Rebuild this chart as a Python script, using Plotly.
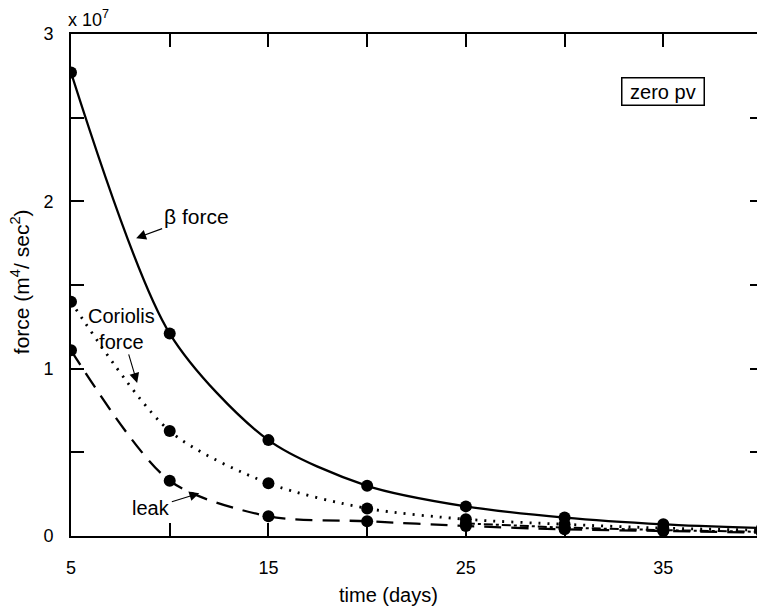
import plotly.graph_objects as go

days = [5, 10, 15, 20, 25, 30, 35, 40]
beta_force = [2.77e7, 1.21e7, 0.573e7, 0.30e7, 0.177e7, 0.11e7, 0.07e7, 0.047e7]
coriolis_force = [1.40e7, 0.627e7, 0.315e7, 0.165e7, 0.10e7, 0.07e7, 0.047e7, 0.035e7]
leak = [1.11e7, 0.33e7, 0.118e7, 0.088e7, 0.06e7, 0.04e7, 0.03e7, 0.02e7]
days_tail = [25, 30, 35, 40]
residual = [0.075e7, 0.05e7, 0.035e7, 0.025e7]

x_tickvals = [5, 10, 15, 20, 25, 30, 35, 40]
x_ticktext = ["5", "", "15", "", "25", "", "35", ""]
y_tickvals = [0, 0.5e7, 1e7, 1.5e7, 2e7, 2.5e7, 3e7]
y_ticktext = ["0", "", "1", "", "2", "", "3"]

FONT = "Liberation Sans, Arial, Helvetica, sans-serif"

fig = go.Figure()
mk = dict(color="black", size=12)
fig.add_trace(go.Scatter(x=days, y=beta_force, mode="lines+markers",
                         line=dict(color="black", width=2.3, shape="spline", smoothing=0.8), marker=mk))
fig.add_trace(go.Scatter(x=days, y=coriolis_force, mode="lines+markers",
                         line=dict(color="black", width=2.8, shape="spline", smoothing=0.8, dash="2px,7px"), marker=mk))
fig.add_trace(go.Scatter(x=days, y=leak, mode="lines+markers",
                         line=dict(color="black", width=2.3, shape="spline", smoothing=0.8, dash="17px,10px"), marker=mk))
fig.add_trace(go.Scatter(x=days_tail, y=residual, mode="lines+markers",
                         line=dict(color="black", width=2, dash="dashdot"), marker=mk))

arrow = dict(showarrow=True, arrowhead=2, arrowsize=1.8, arrowwidth=1.1, arrowcolor="black")

# page body has an 8px margin: compensate so the plot area sits at x 71..765, y 34..536 in the window
fig.update_layout(
    width=765, height=611,
    margin=dict(l=63, r=8, t=26, b=83),
    paper_bgcolor="white", plot_bgcolor="white",
    showlegend=False,
    font=dict(family=FONT, size=18, color="black"),
    xaxis=dict(range=[5, 40.05], tickvals=x_tickvals, ticktext=x_ticktext,
               ticks="inside", ticklen=13, tickwidth=1.5, tickcolor="black",
               showline=True, linecolor="black", linewidth=2, mirror="ticks",
               showgrid=False, zeroline=False, ticklabelstandoff=14,
               tickfont=dict(size=18)),
    yaxis=dict(range=[0, 3e7], tickvals=y_tickvals, ticktext=y_ticktext,
               ticks="inside", ticklen=13, tickwidth=1.5, tickcolor="black",
               showline=True, linecolor="black", linewidth=2, mirror="ticks",
               showgrid=False, zeroline=False, ticklabelstandoff=12,
               tickfont=dict(size=18)),
    annotations=[
        dict(x=(389 - 71) / 694, y=0, xref="paper", yref="paper", text="time (days)", showarrow=False,
             xanchor="center", yanchor="middle", yshift=-59, font=dict(size=20)),
        dict(x=(20 - 71) / 694, y=(536 - 282) / 502, xref="paper", yref="paper",
             text="force (m<sup>4</sup>/ sec<sup>2</sup>)",
             showarrow=False, textangle=-90, xanchor="center", yanchor="middle", font=dict(size=21)),
        dict(x=0, y=1, xref="paper", yref="paper", text="x 10<sup>7</sup>", showarrow=False,
             xanchor="left", yanchor="bottom", xshift=-5, yshift=2, font=dict(size=18)),
        dict(x=8.3, y=1.78e7, text="β force", ax=60, ay=-22, font=dict(size=21), **arrow),
        dict(x=8.35, y=0.915e7, text="Coriolis<br>force", ax=-16, ay=-54, font=dict(size=20), **arrow),
        dict(x=11.5, y=0.256e7, text="leak", ax=-48, ay=15, font=dict(size=20), **arrow),
        dict(x=(665 - 71) / 694, y=(536 - 91) / 502, xref="paper", yref="paper", text=" zero pv ",
             xanchor="center", yanchor="middle",
             showarrow=False, bordercolor="black", borderwidth=1.5, borderpad=2, font=dict(size=20)),
    ],
)

fig.write_html("out.html")
